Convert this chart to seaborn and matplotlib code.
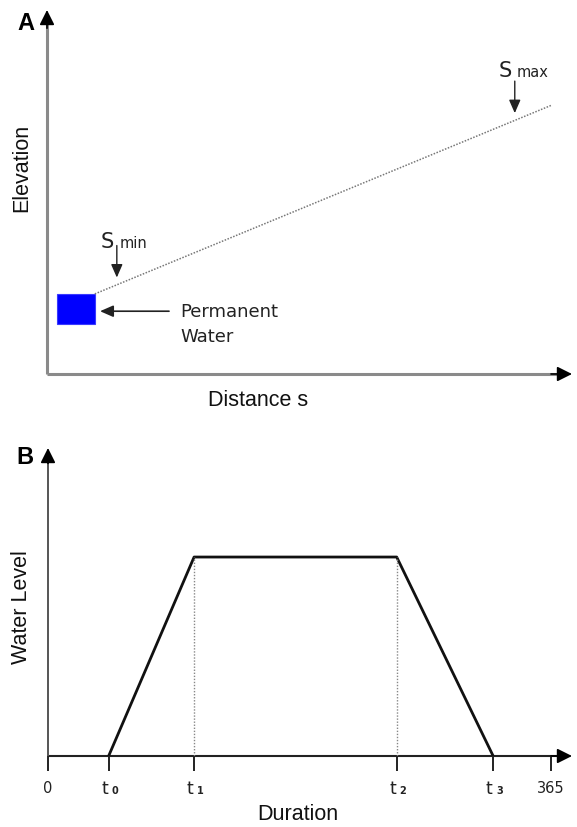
import matplotlib
matplotlib.use("Agg")
import matplotlib.pyplot as plt
import seaborn as sns
import pandas as pd
from matplotlib.patches import Rectangle

# ---------------- data ----------------
# Panel A (arbitrary units 0-100)
profile_distance = [9.1, 96.2]          # S_min -> S_max
profile_elevation = [22.0, 73.9]
water_distance = [1.9, 9.1]             # permanent water block extent
water_elevation = [13.7, 22.0]
smin_distance = 13.3
smax_distance = 89.1

# Panel B (days, relative water level)
duration_days = [44, 106, 253, 323]     # t0, t1, t2, t3
water_level = [0.0, 1.0, 1.0, 0.0]
tick_days = [0, 44, 106, 253, 323, 365]
tick_labels = ["0", "t0", "t1", "t2", "t3", "365"]

W, H = 577, 827

sns.set_theme(style="white")
plt.rcParams["font.family"] = ["DejaVu Sans"]

fig = plt.figure(figsize=(W / 100, H / 100), dpi=100)


def ax_rect(left, top, right, bottom):
    return [left / W, 1 - bottom / H, (right - left) / W, (bottom - top) / H]


def ftext(px, py, s, **kw):
    fig.text(px / W, 1 - py / H, s, transform=fig.transFigure, **kw)


def arrowhead(ax, tip, tail, color="black"):
    ax.annotate("", xy=tip, xytext=tail, xycoords="axes fraction",
                textcoords="axes fraction",
                arrowprops=dict(arrowstyle="-|>,head_length=0.9,head_width=0.45",
                                color=color, lw=1.2, mutation_scale=10,
                                shrinkA=0, shrinkB=0))


LAB = dict(family=["Liberation Sans", "DejaVu Sans"], fontsize=15.5, color="#111111")

# ---------------- Panel A ----------------
axA = fig.add_axes(ax_rect(47, 10, 572, 374))
axA.set_xlim(0, 100)
axA.set_ylim(0, 100)
for s in axA.spines.values():
    s.set_visible(False)
axA.set_xticks([])
axA.set_yticks([])
axA.patch.set_alpha(0)

axA.plot([0, 0.985], [0, 0], transform=axA.transAxes, color="#8a8a8a", lw=2.2,
         solid_capstyle="butt", clip_on=False)
axA.plot([0, 0], [0, 0.97], transform=axA.transAxes, color="#8a8a8a", lw=2.2,
         solid_capstyle="butt", clip_on=False)
arrowhead(axA, (1.0, 0), (0.96, 0))
arrowhead(axA, (0, 1.0), (0, 0.95))

dfA = pd.DataFrame({"distance": profile_distance, "elevation": profile_elevation})
sns.lineplot(data=dfA, x="distance", y="elevation", ax=axA, color="#777777",
             lw=1.1, linestyle=(0, (1, 1)), legend=False)
axA.add_patch(Rectangle((water_distance[0], water_elevation[0]),
                        water_distance[1] - water_distance[0],
                        water_elevation[1] - water_elevation[0],
                        facecolor="#0000ff", edgecolor="#3a3aff", lw=0.8))
axA.set_xlabel("")
axA.set_ylabel("")


def elev_at(d):
    x0, x1 = profile_distance
    y0, y1 = profile_elevation
    return y0 + (d - x0) / (x1 - x0) * (y1 - y0)


for d in (smin_distance, smax_distance):
    axA.annotate("", xy=(d, elev_at(d) + 2.0), xytext=(0, 32),
                 textcoords="offset pixels",
                 arrowprops=dict(arrowstyle="-|>,head_length=0.8,head_width=0.35",
                                 color="#222222", lw=1.0, mutation_scale=10,
                                 shrinkA=0, shrinkB=0))

axA.annotate("", xy=(water_distance[1] + 1.0, (water_elevation[0] + water_elevation[1]) / 2 - 0.6),
             xytext=(69, 0), textcoords="offset pixels",
             arrowprops=dict(arrowstyle="-|>,head_length=0.8,head_width=0.35",
                             color="#222222", lw=1.2, mutation_scale=10,
                             shrinkA=0, shrinkB=0))

ftext(101, 248, "S", fontsize=15, color="#222222", va="baseline", ha="left")
ftext(120, 248, "min", fontsize=10.5, color="#222222", va="baseline", ha="left")
ftext(499, 77, "S", fontsize=15, color="#222222", va="baseline", ha="left")
ftext(517, 77, "max", fontsize=10.5, color="#222222", va="baseline", ha="left")
ftext(180, 317, "Permanent", fontsize=13, color="#222222", va="baseline", ha="left")
ftext(180, 342, "Water", fontsize=13, color="#222222", va="baseline", ha="left")

ftext(258, 400, "Distance s", ha="center", va="center", **LAB)
ftext(22, 168, "Elevation", ha="center", va="center", rotation=90, **LAB)
ftext(26, 23, "A", ha="center", va="center", fontsize=17, fontweight="bold",
      family=["Liberation Sans", "DejaVu Sans"], color="black")

# ---------------- Panel B ----------------
axB = fig.add_axes(ax_rect(48, 448, 572, 756))
axB.set_xlim(0, 380.2)
axB.set_ylim(0, 1.548)
for s in axB.spines.values():
    s.set_visible(False)
axB.patch.set_alpha(0)

axB.plot([0, 0.985], [0, 0], transform=axB.transAxes, color="#222222", lw=1.5,
         solid_capstyle="butt", clip_on=False)
axB.plot([0, 0], [0, 0.97], transform=axB.transAxes, color="#555555", lw=1.4,
         solid_capstyle="butt", clip_on=False)
arrowhead(axB, (1.0, 0), (0.96, 0))
arrowhead(axB, (0, 1.0), (0, 0.95))

dfB = pd.DataFrame({"duration": duration_days, "level": water_level})
sns.lineplot(data=dfB, x="duration", y="level", ax=axB, color="#111111", lw=2.0,
             sort=False, legend=False)
for i in (1, 2):
    axB.plot([duration_days[i], duration_days[i]], [0, water_level[i]],
             color="#888888", lw=1.0, linestyle=(0, (1, 1.2)))

# tick marks; plain numbers as tick labels, t-labels drawn with a small subscript
axB.set_xticks(tick_days)
axB.set_xticklabels([lab if not lab.startswith("t") else "" for lab in tick_labels])
axB.set_yticks([])
axB.tick_params(axis="x", length=11, width=1.4, color="#222222", direction="out",
                pad=7, labelsize=10.5, labelcolor="#222222", bottom=True)
for day, lab in zip(tick_days, tick_labels):
    if lab.startswith("t"):
        axB.annotate("t", xy=(day, 0), xycoords=("data", "axes fraction"),
                     xytext=(-0.5, -38), textcoords="offset pixels",
                     ha="right", va="baseline", fontsize=12.5, color="#222222",
                     annotation_clip=False)
        axB.annotate(lab[1:], xy=(day, 0), xycoords=("data", "axes fraction"),
                     xytext=(3, -38), textcoords="offset pixels",
                     ha="left", va="baseline", fontsize=7, fontweight="bold",
                     color="#222222", annotation_clip=False)
axB.set_xlabel("")
axB.set_ylabel("")

ftext(298, 814, "Duration", ha="center", va="center", **LAB)
ftext(22, 607, "Water Level", ha="center", va="center", rotation=90, **LAB)
ftext(25, 458, "B", ha="center", va="center", fontsize=17, fontweight="bold",
      family=["Liberation Sans", "DejaVu Sans"], color="black")

fig.savefig("out.png", dpi=100)
